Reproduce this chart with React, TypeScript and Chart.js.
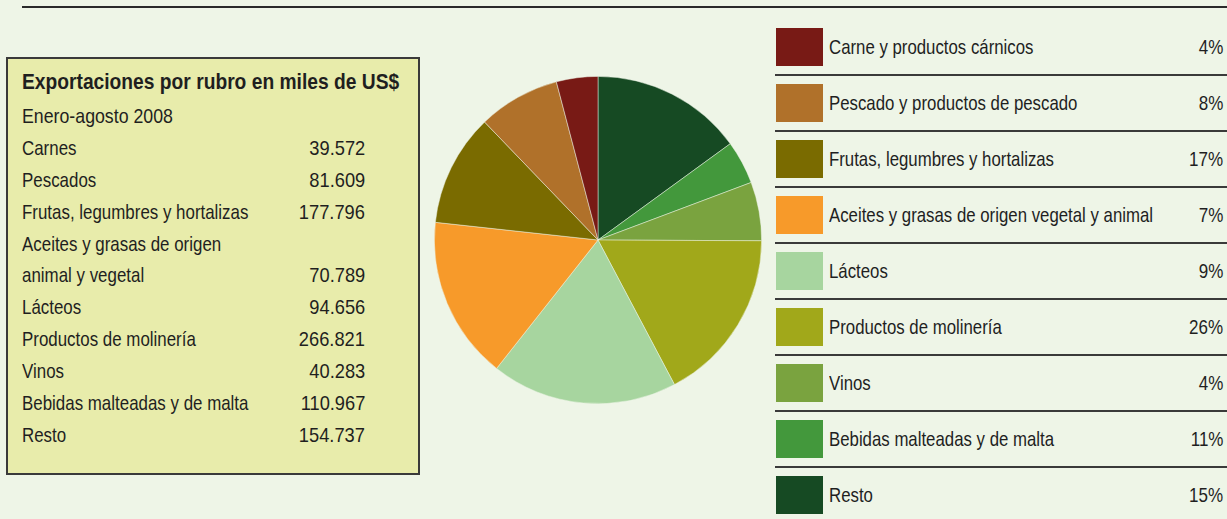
import React, { useEffect, useRef } from "react";
import { Chart, registerables } from "chart.js";

Chart.register(...registerables);

// ---- Data ----
const categories = [
  "Carne y productos cárnicos",
  "Pescado y productos de pescado",
  "Frutas, legumbres y hortalizas",
  "Aceites y grasas de origen vegetal y animal",
  "Lácteos",
  "Productos de molinería",
  "Vinos",
  "Bebidas malteadas y de malta",
  "Resto",
];
const legendPercents = [4, 8, 17, 7, 9, 26, 4, 11, 15];
// slice shares as drawn in the pie (percent)
const pieShares = [4.1, 8.1, 11.1, 16.1, 18.4, 17.2, 5.8, 4.3, 15.0];
const sliceColors = [
  "#781a15",
  "#b0712a",
  "#7a6b00",
  "#f79a2a",
  "#a7d59f",
  "#a1a81a",
  "#7aa33f",
  "#43983c",
  "#164a23",
];

const tableTitle = "Exportaciones por rubro en miles de US$";
const tableSubtitle = "Enero-agosto 2008";
const tableLabels = [
  "Carnes",
  "Pescados",
  "Frutas, legumbres y hortalizas",
  "Aceites y grasas de origen|animal y vegetal",
  "Lácteos",
  "Productos de molinería",
  "Vinos",
  "Bebidas malteadas y de malta",
  "Resto",
];
const tableValues = [39572, 81609, 177796, 70789, 94656, 266821, 40283, 110967, 154737];

const BG = "#eef5e7";
const FONT = '"Liberation Sans", Arial, sans-serif';
const TEXT = "#1f1f1f";
const LABEL_SX = 0.805;
const NUM_SX = 0.87;
const TITLE_SX = 0.874;

const fmt = (v: number) => v.toString().replace(/\B(?=(\d{3})+(?!\d))/g, ".");

type TxtProps = {
  x: number;
  top: number;
  h: number;
  size: number;
  sx: number;
  align?: "left" | "right";
  bold?: boolean;
  children: React.ReactNode;
};

function Txt({ x, top, h, size, sx, align = "left", bold, children }: TxtProps) {
  const pos: React.CSSProperties =
    align === "left" ? { left: x } : { right: 1227 - x };
  return (
    <div
      style={{
        position: "absolute",
        ...pos,
        top,
        height: h,
        lineHeight: `${h}px`,
        fontSize: size,
        fontWeight: bold ? "bold" : "normal",
        whiteSpace: "nowrap",
        transform: `scaleX(${sx})`,
        transformOrigin: align === "left" ? "left center" : "right center",
      }}
    >
      {children}
    </div>
  );
}

export default function App() {
  const ref = useRef<HTMLCanvasElement>(null);

  useEffect(() => {
    document.body.style.margin = "0";
    document.body.style.background = BG;
    const order = categories.map((_, i) => i).reverse();
    const chart = new Chart(ref.current!, {
      type: "pie",
      data: {
        labels: order.map((i) => categories[i]),
        datasets: [
          {
            data: order.map((i) => pieShares[i]),
            backgroundColor: order.map((i) => sliceColors[i]),
            borderColor: "rgba(238,245,231,0.6)",
            borderWidth: 0.8,
          },
        ],
      },
      options: {
        responsive: false,
        animation: false,
        layout: { padding: 0 },
        plugins: { legend: { display: false }, tooltip: { enabled: false } },
      },
    });
    return () => chart.destroy();
  }, []);

  const lines: { label: string; value: string }[] = [];
  tableLabels.forEach((l, i) => {
    const parts = l.split("|");
    parts.forEach((p, j) => {
      lines.push({ label: p, value: j === parts.length - 1 ? fmt(tableValues[i]) : "" });
    });
  });

  const rowPitch = 31.85;

  return (
    <div
      style={{
        position: "absolute",
        left: 0,
        top: 0,
        width: 1227,
        height: 519,
        background: BG,
        overflow: "hidden",
        fontFamily: FONT,
        color: TEXT,
      }}
    >
      {/* top rule */}
      <div style={{ position: "absolute", left: 22, top: 6, width: 1205, height: 2, background: "#2a2a2a" }} />

      {/* table box */}
      <div
        style={{
          position: "absolute",
          left: 6,
          top: 57,
          width: 410,
          height: 414,
          background: "#e8ecab",
          border: "2px solid #3a3a3a",
        }}
      />
      <Txt x={22} top={66.3} h={32} size={22} sx={TITLE_SX} bold>
        {tableTitle}
      </Txt>
      <Txt x={22} top={100.2} h={32} size={21} sx={0.845}>
        {tableSubtitle}
      </Txt>
      {lines.map((ln, k) => (
        <React.Fragment key={k}>
          <Txt x={22} top={132 + rowPitch * k} h={32} size={21} sx={LABEL_SX}>
            {ln.label}
          </Txt>
          {ln.value && (
            <Txt x={365} top={132 + rowPitch * k} h={32} size={21} sx={NUM_SX} align="right">
              {ln.value}
            </Txt>
          )}
        </React.Fragment>
      ))}

      {/* pie */}
      <canvas
        ref={ref}
        width={328}
        height={328}
        style={{ position: "absolute", left: 434, top: 75.5, width: 328, height: 328 }}
      />

      {/* legend */}
      {categories.map((c, i) => (
        <React.Fragment key={c}>
          <div
            style={{
              position: "absolute",
              left: 776,
              top: 28.3 + 56 * i,
              width: 47,
              height: 37.5,
              background: sliceColors[i],
            }}
          />
          <Txt x={828.5} top={27.5 + 56 * i} h={37.5} size={21} sx={0.8}>
            {c}
          </Txt>
          <Txt x={1223.5} top={27.5 + 56 * i} h={37.5} size={21} sx={0.81} align="right">
            {legendPercents[i]}%
          </Txt>
          {i < categories.length - 1 && (
            <div
              style={{
                position: "absolute",
                left: 775,
                top: 73.5 + 56 * i,
                width: 452,
                height: 2,
                background: "#3a3a3a",
              }}
            />
          )}
        </React.Fragment>
      ))}
    </div>
  );
}
